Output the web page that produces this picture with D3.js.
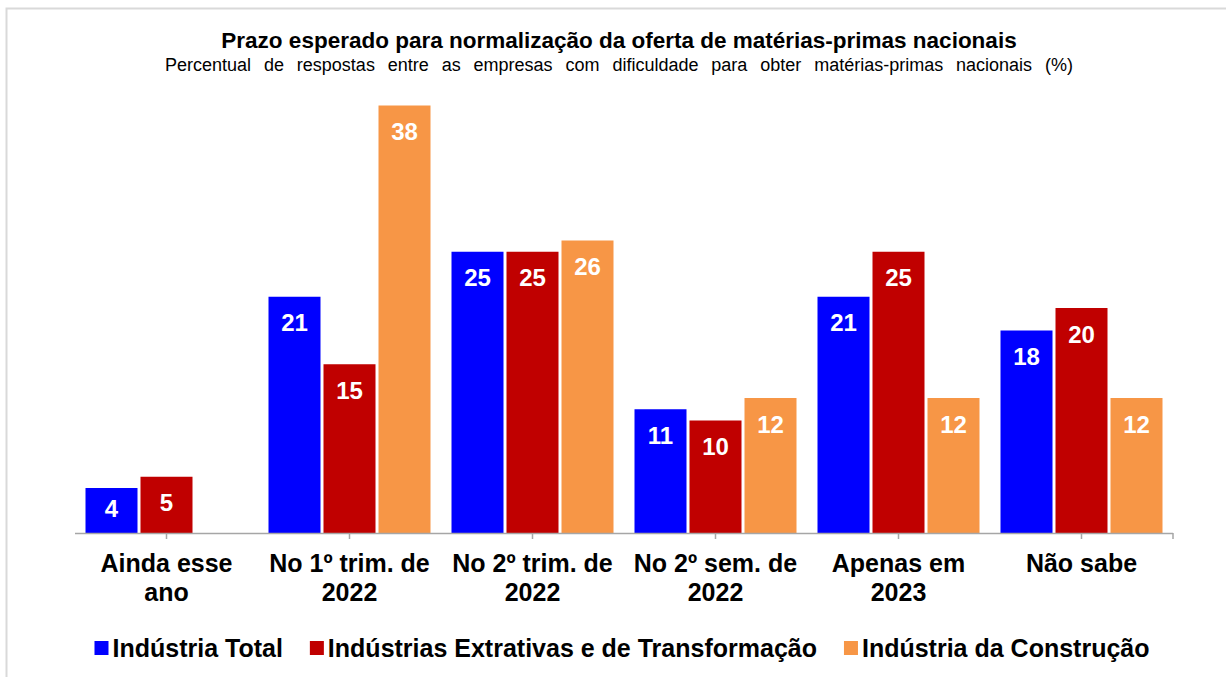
<!DOCTYPE html>
<html>
<head>
<meta charset="utf-8">
<script src="https://cdn.jsdelivr.net/npm/d3@7"></script>
<style>
body{margin:0;background:#fff;}
text{font-family:Arial,"Liberation Sans",sans-serif;}
</style>
</head>
<body>
<div id="grafico"></div>
<script>

// DADOS

const categorias=["Ainda esse ano","No 1º trim. de 2022","No 2º trim. de 2022","No 2º sem. de 2022","Apenas em 2023","Não sabe"];

const rotulos=[["Ainda esse","ano"],["No 1º trim. de","2022"],["No 2º trim. de","2022"],["No 2º sem. de","2022"],["Apenas em","2023"],["Não sabe"]];

const series=["Indústria Total","Indústrias Extrativas e de Transformação","Indústria da Construção"];

const industriaTotal=[4,21,25,11,21,18];

const extrativasTransformacao=[5,15,25,10,25,20];

const construcao=[null,38,26,12,12,12];

const cores=["#0000ff","#c00000","#f79646"];


const width=1226;
const height=677;

const svg=d3.select("#grafico")
.append("svg")
.attr("width",width)
.attr("height",height);


// MOLDURA
svg.append("rect")
.attr("x",6.5)
.attr("y",8.5)
.attr("width",1300)
.attr("height",800)
.attr("fill","none")
.attr("stroke","#d9d9d9")
.attr("stroke-width",2);


// TITULO
svg.append("text")
.attr("x",619)
.attr("y",48)
.attr("text-anchor","middle")
.style("font-size","22.5px")
.style("font-weight","bold")
.text("Prazo esperado para normalização da oferta de matérias-primas nacionais");

const sub=svg.append("text")
.attr("x",619)
.attr("y",71)
.attr("text-anchor","middle")
.style("font-size","18px")
.text("Percentual de respostas entre as empresas com dificuldade para obter matérias-primas nacionais (%)");

// espaço entre palavras para ocupar a mesma largura
const larguraSub=sub.node().getComputedTextLength();
const espacos=sub.text().split(" ").length-1;
if(larguraSub<908){
sub.style("word-spacing",((908-larguraSub)/espacos)+"px");
}


const valores=[industriaTotal,extrativasTransformacao,construcao];

const dados=[];
categorias.forEach((c,i)=>{
series.forEach((s,j)=>{
if(valores[j][i]!=null){
dados.push({categoria:c,serie:s,valor:valores[j][i],cor:cores[j]});
}
});
});


// ESCALAS
const x0=d3.scaleBand()
.domain(categorias)
.range([75,1173]);

const x1=d3.scaleBand()
.domain(series)
.range([0,162])
.paddingInner(3/55);

const y=d3.scaleLinear()
.domain([0,40])
.range([533,83]);

const deslocamento=(x0.bandwidth()-162)/2;


// BARRAS
svg.selectAll(".barra")
.data(dados)
.enter()
.append("rect")
.attr("class","barra")
.attr("x",d=>x0(d.categoria)+deslocamento+x1(d.serie))
.attr("y",d=>y(d.valor))
.attr("width",x1.bandwidth())
.attr("height",d=>y(0)-y(d.valor))
.attr("fill",d=>d.cor);


// ROTULOS DAS BARRAS
svg.selectAll(".valor")
.data(dados)
.enter()
.append("text")
.attr("class","valor")
.attr("x",d=>x0(d.categoria)+deslocamento+x1(d.serie)+x1.bandwidth()/2)
.attr("y",d=>Math.min(y(d.valor)+26,(y(d.valor)+y(0))/2-2))
.attr("dy","0.36em")
.attr("text-anchor","middle")
.attr("fill","#fff")
.style("font-size","24px")
.style("font-weight","bold")
.text(d=>d.valor);


// EIXO X
const eixo=svg.append("g");

eixo.append("line")
.attr("x1",75)
.attr("x2",1173)
.attr("y1",y(0)+0.5)
.attr("y2",y(0)+0.5)
.attr("stroke","#a6a6a6")
.attr("stroke-width",1.5);

const marcas=categorias.map(c=>x0(c)+x0.bandwidth()/2).concat([1173]);

eixo.selectAll(".marca")
.data(marcas)
.enter()
.append("line")
.attr("x1",d=>d)
.attr("x2",d=>d)
.attr("y1",y(0))
.attr("y2",y(0)+6)
.attr("stroke","#a6a6a6")
.attr("stroke-width",1.5);

categorias.forEach((c,i)=>{
const t=eixo.append("text")
.attr("x",x0(c)+x0.bandwidth()/2)
.attr("y",572)
.attr("text-anchor","middle")
.style("font-size","25px")
.style("font-weight","bold")
.attr("fill","#000");
rotulos[i].forEach((linha,k)=>{
t.append("tspan")
.attr("x",x0(c)+x0.bandwidth()/2)
.attr("y",572+k*29)
.text(linha);
});
});


// LEGENDA
const legenda=svg.append("g");

let pos=0;
series.forEach((s,i)=>{
const g=legenda.append("g");
g.append("rect")
.attr("x",0)
.attr("y",-7)
.attr("width",14)
.attr("height",14)
.attr("fill",cores[i]);
const t=g.append("text")
.attr("x",18)
.attr("y",0)
.attr("dy","0.36em")
.style("font-size","25px")
.style("font-weight","bold")
.text(s);
const w=18+t.node().getComputedTextLength();
g.attr("transform","translate("+pos+",0)");
pos+=w+27;
});

const total=pos-27;
legenda.attr("transform","translate("+(622-total/2)+",648)");

</script>
</body>
</html>
